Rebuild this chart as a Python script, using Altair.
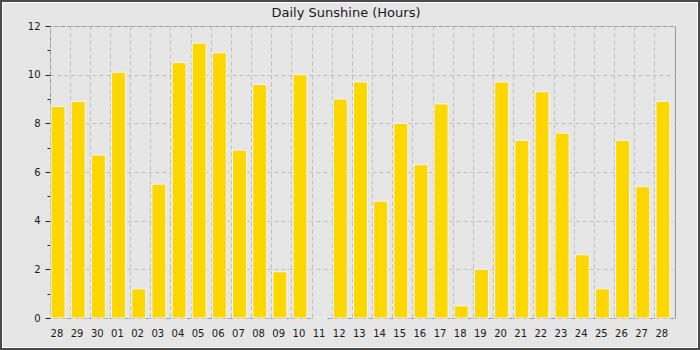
import json
import altair as alt
import pandas as pd

days = ["28", "29", "30", "01", "02", "03", "04", "05", "06", "07", "08", "09",
        "10", "11", "12", "13", "14", "15", "16", "17", "18", "19", "20", "21",
        "22", "23", "24", "25", "26", "27", "28"]
hours = [8.7, 8.9, 6.7, 10.1, 1.2, 5.5, 10.5, 11.3, 10.9, 6.9, 9.6, 1.9,
         10.0, 0.0, 9.0, 9.7, 4.8, 8.0, 6.3, 8.8, 0.5, 2.0, 9.7, 7.3,
         9.3, 7.6, 2.6, 1.2, 7.3, 5.4, 8.9]
y_ticks = list(range(0, 13))
title_text = "Daily Sunshine (Hours)"

df = pd.DataFrame({"idx": list(range(len(days))), "day": days, "hours": hours})

FONT = "DejaVu Sans"
GRID = "#bfbfbf"
even = "datum.value % 2 === 0"

bars = alt.Chart(df).mark_bar(
    width=14, xOffset=-2, color="#ffd700", stroke="#f2f6ff", strokeWidth=1
).encode(
    x=alt.X("idx:O", scale=alt.Scale(paddingInner=0, paddingOuter=0),
            axis=alt.Axis(title=None, bandPosition=0, labelAlign="left",
                          labelAngle=0, labelExpr=json.dumps(days) + "[datum.value]",
                          labelOffset=-9.5,
                          ticks=False, tickSize=0, labelPadding=10, domain=False,
                          grid=True, gridDash=[4, 3], gridColor=GRID,
                          labelFont=FONT, labelFontSize=10, labelColor="#1a1a1a",
                          labelBaseline="top")),
    y=alt.Y("hours:Q", scale=alt.Scale(domain=[0, 12], nice=False, zero=True),
            axis=alt.Axis(title=None, values=y_ticks,
                          labelExpr=f"{even} ? datum.label : ''",
                          tickSize={"condition": {"test": even, "value": 5}, "value": 3},
                          tickColor="#222222",
                          gridOpacity={"condition": {"test": even, "value": 1}, "value": 0},
                          gridDash=[4, 3], gridColor=GRID, domain=False,
                          labelFont=FONT, labelFontSize=10, labelColor="#1a1a1a",
                          labelPadding=5)),
)

one = pd.DataFrame({"a": [0]})
outer = alt.Chart(one).mark_rect(fill=None, stroke="#4a4a4a", strokeWidth=2).encode(
    x=alt.value(-49), x2=alt.value(649), y=alt.value(-25), y2=alt.value(323))
inner = alt.Chart(one).mark_rect(fill=None, stroke="#ffffff", strokeWidth=1).encode(
    x=alt.value(-47.5), x2=alt.value(647.5), y=alt.value(-23.5), y2=alt.value(321.5))
title = alt.Chart(one).mark_text(
    text=title_text, font=FONT, fontSize=13, color="#1a1a1a",
    align="center", baseline="alphabetic"
).encode(x=alt.value(296), y=alt.value(-9.5))

chart = alt.layer(bars, outer, inner, title).properties(
    width=625, height=292,
    autosize=alt.AutoSizeParams(type="none"),
    padding={"left": 50, "top": 26, "right": 25, "bottom": 32},
    background="#e6e6e6",
).configure_view(
    fill="#e6e6e6", stroke="#999999", strokeWidth=1
)

chart.save("out.html", embed_options={"renderer": "svg", "actions": False})
